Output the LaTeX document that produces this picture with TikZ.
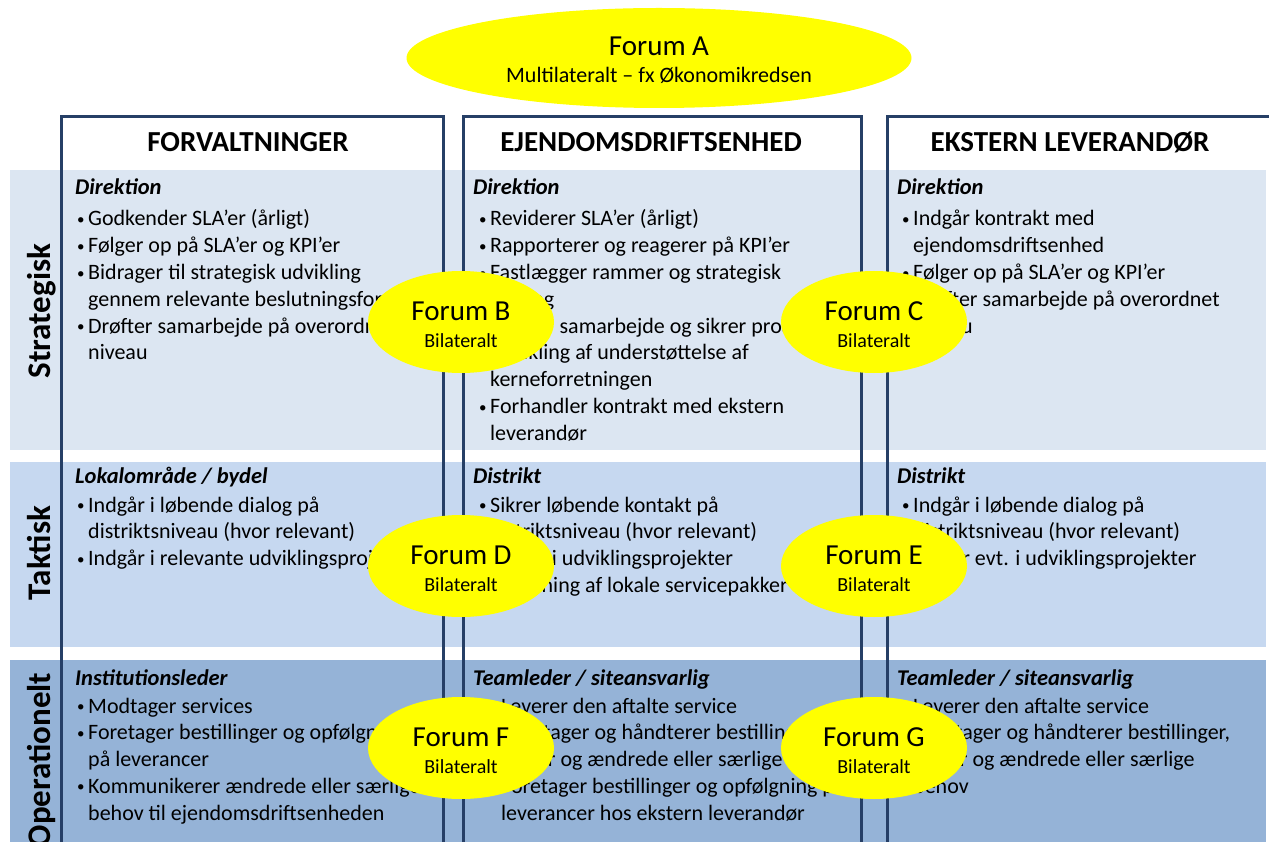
\documentclass[tikz,border=0pt]{standalone}
\usepackage{fontspec}
\setmainfont{Carlito}
\usetikzlibrary{shapes.geometric}
\definecolor{bandS}{HTML}{DCE6F2}
\definecolor{bandT}{HTML}{C6D8F0}
\definecolor{bandO}{HTML}{95B3D7}
\definecolor{colline}{HTML}{263F66}
\definecolor{forumyellow}{HTML}{FFFF00}
\newcommand\bu{\makebox[11pt][l]{\raisebox{1.5pt}{\fontsize{15}{15}\selectfont•}}}
\newcommand\ct{\hspace*{11pt}}
\newcommand\sub[1]{\textbf{\textit{#1}}}
\tikzset{
  band/.style={draw=none},
  colbox/.style={draw=colline, line width=3pt},
  head/.style={anchor=base, inner sep=0, font=\fontsize{29}{30}\selectfont\bfseries},
  rowlab/.style={anchor=base, inner sep=0, rotate=90, font=\fontsize{33}{34}\selectfont\bfseries},
  subt/.style={anchor=base west, inner sep=0, font=\fontsize{22.5}{26.8}\selectfont},
  blk/.style={anchor=base west, inner sep=0, font=\fontsize{22}{26.8}\selectfont},
  forum/.style={ellipse, fill=forumyellow, draw=none, inner sep=0, minimum width=186pt, minimum height=102pt},
  ftitle/.style={anchor=base, inner sep=0, font=\fontsize{29}{30}\selectfont},
  fsub/.style={anchor=base, inner sep=0, font=\fontsize{20}{22}\selectfont},
}
\begin{document}
\begin{tikzpicture}[x=1pt,y=-1pt]
\useasboundingbox (0,0) rectangle (1269,842);
\clip (0,0) rectangle (1269,842);
\fill[white] (0,0) rectangle (1269,842);
% bands
\fill[bandS] (10,170) rectangle (1266,450);
\fill[bandT] (10,462) rectangle (1266,647);
\fill[bandO] (10,660) rectangle (1266,900);
% columns
\draw[colbox] (61,117) rectangle (443,900);
\draw[colbox] (463,117) rectangle (861,900);
\draw[colbox] (887,117) rectangle (1290,900);
% headers
\node[head] (h1) at (248,152) {FORVALTNINGER};
\node[head] (h2) at (651,152) {EJENDOMSDRIFTSENHED};
\node[head] (h3) at (1070,152) {EKSTERN LEVERANDØR};
% row labels
\node[rowlab] (r1) at (50,311) {Strategisk};
\node[rowlab] (r2) at (50,553) {Taktisk};
\node[rowlab] (r3) at (50,760) {Operationelt};
% Strategisk
\node[subt] (s1) at (75,195) {\sub{Direktion}};
\node[blk] (b1) at (77,226) {\begin{tabular}[t]{@{}l@{}}
\bu Godkender SLA’er (årligt)\\
\bu Følger op på SLA’er og KPI’er\\
\bu Bidrager til strategisk udvikling\\
\ct gennem relevante beslutningsfora\\
\bu Drøfter samarbejde på overordnet\\
\ct niveau
\end{tabular}};
\node[subt] (s2) at (473,195) {\sub{Direktion}};
\node[blk] (b2) at (479,226) {\begin{tabular}[t]{@{}l@{}}
\bu Reviderer SLA’er (årligt)\\
\bu Rapporterer og reagerer på KPI’er\\
\bu Fastlægger rammer og strategisk\\
\ct retning\\
\bu Drøfter samarbejde og sikrer proaktiv\\
\ct udvikling af understøttelse af\\
\ct kerneforretningen\\
\bu Forhandler kontrakt med ekstern\\
\ct leverandør
\end{tabular}};
\node[subt] (s3) at (897,195) {\sub{Direktion}};
\node[blk] (b3) at (902,226) {\begin{tabular}[t]{@{}l@{}}
\bu Indgår kontrakt med\\
\ct ejendomsdriftsenhed\\
\bu Følger op på SLA’er og KPI’er\\
\bu Drøfter samarbejde på overordnet\\
\ct niveau
\end{tabular}};
% Taktisk
\node[subt] (s4) at (75,483) {\sub{Lokalområde / bydel}};
\node[blk] (b4) at (77,512) {\begin{tabular}[t]{@{}l@{}}
\bu Indgår i løbende dialog på\\
\ct distriktsniveau (hvor relevant)\\
\bu Indgår i relevante udviklingsprojekter
\end{tabular}};
\node[subt] (s5) at (473,483) {\sub{Distrikt}};
\node[blk] (b5) at (479,512) {\begin{tabular}[t]{@{}l@{}}
\bu Sikrer løbende kontakt på\\
\ct distriktsniveau (hvor relevant)\\
\bu Indgår i udviklingsprojekter\\
\bu Tilpasning af lokale servicepakker
\end{tabular}};
\node[subt] (s6) at (897,483) {\sub{Distrikt}};
\node[blk] (b6) at (902,512) {\begin{tabular}[t]{@{}l@{}}
\bu Indgår i løbende dialog på\\
\ct distriktsniveau (hvor relevant)\\
\bu Indgår evt. i udviklingsprojekter
\end{tabular}};
% Operationelt
\node[subt] (s7) at (75,685) {\sub{Institutionsleder}};
\node[blk] (b7) at (77,713) {\begin{tabular}[t]{@{}l@{}}
\bu Modtager services\\
\bu Foretager bestillinger og opfølgning\\
\ct på leverancer\\
\bu Kommunikerer ændrede eller særlige\\
\ct behov til ejendomsdriftsenheden
\end{tabular}};
\node[subt] (s8) at (473,685) {\sub{Teamleder / siteansvarlig}};
\node[blk] (b8) at (490,713) {\begin{tabular}[t]{@{}l@{}}
\bu Leverer den aftalte service\\
\bu Modtager og håndterer bestillinger,\\
\ct klager og ændrede eller særlige behov\\
\bu Foretager bestillinger og opfølgning på\\
\ct leverancer hos ekstern leverandør
\end{tabular}};
\node[subt] (s9) at (897,685) {\sub{Teamleder / siteansvarlig}};
\node[blk] (b9) at (902,713) {\begin{tabular}[t]{@{}l@{}}
\bu Leverer den aftalte service\\
\bu Modtager og håndterer bestillinger,\\
\ct klager og ændrede eller særlige\\
\ct behov
\end{tabular}};
% Forum A
\node[forum, minimum width=505pt, minimum height=100pt] (fA) at (659,58) {};
\node[ftitle] (fAt) at (659,56) {Forum A};
\node[fsub, font=\fontsize{22}{24}\selectfont] (fAs) at (659,83) {Multilateralt – fx Økonomikredsen};
% bilateral forums
\foreach \n/\x/\y in {B/461/322, C/874/322, D/461/566, E/874/566, F/461/748, G/874/748}{
  \node[forum] (f\n) at (\x,\y) {};
  \node[ftitle] (f\n t) at (\x,\y-2) {Forum \n};
  \node[fsub] (f\n s) at (\x,\y+25) {Bilateralt};
}
\end{tikzpicture}
\end{document}
